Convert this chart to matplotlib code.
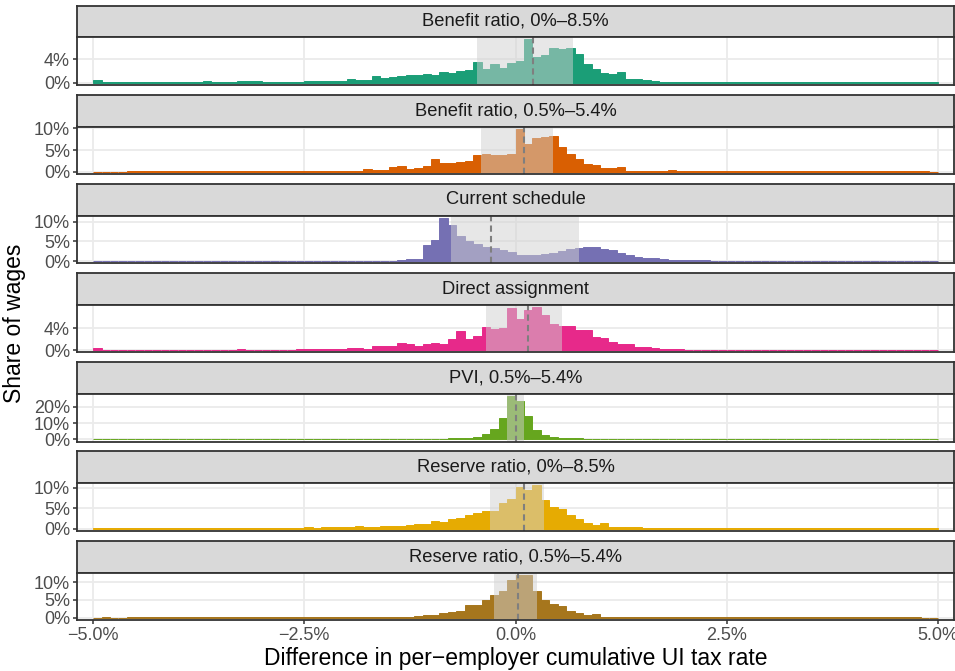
import matplotlib
matplotlib.use('Agg')
import numpy as np
import matplotlib.pyplot as plt

plt.rcParams['font.family'] = ['Liberation Sans', 'DejaVu Sans']

# ------------------------------------------------------------
# Dados (share of wages, %, bins de 0.1 p.p. de -5.0 a 5.0)
# ------------------------------------------------------------
BIN_WIDTH = 0.1
BIN_START = -5.0

panel_titles = [
    'Benefit ratio, 0%–8.5%',
    'Benefit ratio, 0.5%–5.4%',
    'Current schedule',
    'Direct assignment',
    'PVI, 0.5%–5.4%',
    'Reserve ratio, 0%–8.5%',
    'Reserve ratio, 0.5%–5.4%',
]

benefit_0_85 = [
    0.4, 0.08, 0.08, 0.08, 0.08, 0.08, 0.08, 0.08, 0.08, 0.08,
    0.08, 0.08, 0.08, 0.25, 0.1, 0.1, 0.1, 0.2, 0.2, 0.2,
    0.05, 0.17, 0.17, 0.05, 0.17, 0.25, 0.25, 0.34, 0.34, 0.34,
    0.6, 0.45, 0.45, 1.07, 0.85, 0.95, 1.07, 1.24, 1.35, 1.5,
    1.3, 1.8, 1.7, 2.0, 2.1, 3.5, 2.34, 3.14, 2.46, 3.43,
    3.7, 7.4, 4.4, 4.74, 5.9, 5.7, 6.0, 4.86, 3.26, 2.4,
    1.6, 1.43, 1.77, 0.69, 0.57, 0.4, 0.23, 0.17, 0.15, 0.15,
    0.1, 0.08, 0.08, 0.08, 0.08, 0.08, 0.08, 0.08, 0.08, 0.08,
    0.08, 0.08, 0.08, 0.08, 0.08, 0.08, 0.08, 0.08, 0.08, 0.08,
    0.08, 0.08, 0.08, 0.08, 0.08, 0.08, 0.08, 0.08, 0.08, 0.08,
]
benefit_05_54 = [
    0, 0, 0, 0, 0.08, 0.08, 0.08, 0.08, 0.08, 0.08,
    0.08, 0.08, 0.08, 0.08, 0.08, 0.08, 0.08, 0.08, 0.08, 0.08,
    0.08, 0.08, 0.08, 0.08, 0.08, 0.23, 0.23, 0.23, 0.1, 0.15,
    0.15, 0.15, 0.7, 0.46, 0.46, 1.0, 1.25, 0.7, 0.88, 1.44,
    2.85, 1.95, 2.1, 2.15, 2.4, 3.8, 4.0, 3.85, 3.85, 4.0,
    9.9, 6.3, 7.7, 8.1, 8.2, 5.7, 4.1, 3.0, 1.9, 1.54,
    0.92, 0.92, 1.08, 0.3, 0.3, 0.08, 0.08, 0.08, 0.4, 0.08,
    0.08, 0.08, 0.08, 0.08, 0.08, 0.08, 0.08, 0.08, 0.08, 0.08,
    0.08, 0.08, 0.08, 0.08, 0.08, 0.08, 0.08, 0.08, 0.08, 0.08,
    0.08, 0.08, 0.08, 0.08, 0.08, 0.08, 0.08, 0.08, 0.08, 0,
]
current_schedule = [
    0, 0, 0, 0, 0, 0, 0, 0, 0, 0,
    0, 0, 0, 0, 0, 0, 0, 0, 0, 0,
    0, 0, 0, 0, 0, 0, 0, 0, 0, 0,
    0, 0, 0, 0, 0, 0, 0.15, 0.6, 0.6, 4.15,
    5.4, 11.0, 9.2, 6.3, 5.0, 4.45, 3.7, 3.4, 2.9, 2.35,
    1.6, 1.6, 1.6, 1.8, 2.1, 2.6, 3.1, 3.4, 3.56, 3.7,
    3.1, 2.7, 2.0, 1.65, 1.1, 0.85, 0.65, 0.55, 0.38, 0.38,
    0.38, 0.38, 0.38, 0.12, 0.12, 0.12, 0.12, 0.12, 0.12, 0.12,
    0.12, 0.12, 0.12, 0.12, 0.12, 0.12, 0.12, 0.12, 0.12, 0.12,
    0.12, 0.12, 0.12, 0.12, 0.12, 0.12, 0.12, 0.12, 0.12, 0.12,
]
direct_assignment = [
    0.42, 0.06, 0.06, 0.06, 0.06, 0.06, 0.06, 0.06, 0.06, 0.06,
    0.06, 0.06, 0.06, 0.06, 0.06, 0.06, 0.06, 0.24, 0.06, 0.06,
    0.06, 0.06, 0.06, 0.06, 0.24, 0.24, 0.24, 0.24, 0.24, 0.24,
    0.45, 0.45, 0.27, 0.7, 0.7, 0.7, 1.35, 1.07, 0.84, 1.2,
    1.33, 1.2, 2.05, 3.5, 2.0, 2.55, 4.25, 3.9, 4.0, 7.65,
    5.75, 7.3, 7.85, 6.35, 4.8, 4.4, 4.4, 3.6, 3.7, 2.4,
    2.25, 1.5, 1.1, 1.1, 0.68, 0.68, 0.42, 0.3, 0.24, 0.24,
    0.1, 0.1, 0.1, 0.1, 0.1, 0.1, 0.1, 0.1, 0.1, 0.1,
    0.1, 0.1, 0.1, 0.1, 0.1, 0.1, 0.1, 0.1, 0.1, 0.1,
    0.1, 0.1, 0.1, 0.1, 0.1, 0.1, 0.1, 0.1, 0.1, 0.1,
]
pvi_05_54 = [
    0, 0, 0, 0, 0.2, 0.2, 0.2, 0.2, 0.2, 0.2,
    0.2, 0.2, 0.2, 0.2, 0.2, 0.2, 0.2, 0.2, 0.2, 0.2,
    0.2, 0.2, 0.2, 0.2, 0.2, 0.2, 0.2, 0.2, 0.2, 0.2,
    0.2, 0.2, 0.2, 0.2, 0.2, 0.2, 0.2, 0.2, 0.2, 0.2,
    0.2, 0.2, 0.6, 0.6, 0.8, 1.6, 3.3, 6.2, 13.2, 26.4,
    23.4, 14.2, 5.6, 2.9, 1.3, 0.6, 0.6, 0.6, 0.2, 0.2,
    0.2, 0.2, 0.2, 0.2, 0.2, 0.2, 0.2, 0.2, 0.2, 0.2,
    0.2, 0.2, 0.2, 0.2, 0.2, 0.2, 0.2, 0.2, 0.2, 0.2,
    0.2, 0.2, 0.2, 0.2, 0.2, 0.2, 0.2, 0.2, 0.2, 0.2,
    0.2, 0.2, 0.2, 0.2, 0.2, 0.2, 0.2, 0.2, 0, 0,
]
reserve_0_85 = [
    0.08, 0.08, 0.08, 0.08, 0.08, 0.08, 0.08, 0.08, 0.08, 0.08,
    0.08, 0.08, 0.08, 0.08, 0.08, 0.08, 0.08, 0.08, 0.08, 0.08,
    0.08, 0.08, 0.08, 0.08, 0.08, 0.3, 0.08, 0.3, 0.3, 0.3,
    0.3, 0.55, 0.35, 0.35, 0.55, 0.55, 0.55, 0.95, 1.05, 1.1,
    1.8, 1.55, 2.4, 2.6, 3.3, 3.9, 4.3, 4.3, 6.3, 7.2,
    10.1, 9.4, 10.6, 7.1, 5.2, 4.7, 3.4, 2.3, 1.3, 1.0,
    1.35, 0.5, 0.5, 0.3, 0.3, 0.08, 0.08, 0.08, 0.08, 0.08,
    0.08, 0.08, 0.08, 0.08, 0.08, 0.08, 0.08, 0.08, 0.08, 0.08,
    0.08, 0.08, 0.08, 0.08, 0.08, 0.08, 0.08, 0.08, 0.08, 0.08,
    0.08, 0.08, 0.08, 0.08, 0.08, 0.08, 0.08, 0.08, 0.08, 0.08,
]
reserve_05_54 = [
    0, 0.1, 0, 0, 0.1, 0.1, 0.1, 0.1, 0.1, 0.1,
    0.1, 0.1, 0.1, 0.1, 0.1, 0.1, 0.1, 0.1, 0.1, 0.1,
    0.1, 0.1, 0.1, 0.1, 0.1, 0.1, 0.1, 0.1, 0.1, 0.1,
    0.1, 0.1, 0.1, 0.1, 0.37, 0.37, 0.37, 0.37, 0.6, 0.9,
    0.9, 1.25, 1.55, 1.8, 3.5, 3.7, 4.9, 6.3, 7.45, 10.7,
    12.1, 12.1, 7.4, 5.1, 4.0, 3.2, 1.85, 1.25, 0.9, 1.2,
    0.37, 0.37, 0.37, 0.1, 0.37, 0.1, 0.1, 0.1, 0.1, 0.1,
    0.1, 0.1, 0.1, 0.1, 0.1, 0.1, 0.1, 0.1, 0.1, 0.1,
    0.1, 0.1, 0.1, 0.1, 0.1, 0.1, 0.1, 0.1, 0.1, 0.1,
    0.1, 0.1, 0.1, 0.1, 0.1, 0.1, 0.1, 0.1, 0, 0,
]

# intervalo sombreado (quartis) e mediana, em p.p.
iqr_low = [-0.455, -0.41, -0.767, -0.349, -0.1, -0.302, -0.255]
iqr_high = [0.677, 0.447, 0.747, 0.547, 0.1, 0.335, 0.25]
medians = [0.21, 0.1, -0.294, 0.144, 0.0, 0.1, 0.026]

y_ticks = [[0, 4], [0, 5, 10], [0, 5, 10], [0, 4], [0, 10, 20], [0, 5, 10], [0, 5, 10]]
x_ticks = [-5.0, -2.5, 0.0, 2.5, 5.0]
x_tick_labels = ['−5.0%', '−2.5%', '0.0%', '2.5%', '5.0%']

colors = ['#1B9E77', '#D95F02', '#7570B3', '#E7298A', '#66A61E', '#E6AB02', '#A6761D']

series = [benefit_0_85, benefit_05_54, current_schedule, direct_assignment,
          pvi_05_54, reserve_0_85, reserve_05_54]

# ------------------------------------------------------------
# Layout (px)
# ------------------------------------------------------------
W, H = 955, 671
LEFT, RIGHT = 77, 954
TOP0, STEP = 5.5, 89.2
STRIP_H, PANEL_H = 31.8, 47.5
BORDER = '#333333'

fig = plt.figure(figsize=(W / 100, H / 100), dpi=100)

for i, (vals, title) in enumerate(zip(series, panel_titles)):
    strip_top = TOP0 + i * STEP
    panel_top = strip_top + STRIP_H

    # faixa do título
    sax = fig.add_axes([LEFT / W, 1 - panel_top / H, (RIGHT - LEFT) / W, STRIP_H / H])
    sax.set_facecolor('#D9D9D9')
    sax.set_xticks([])
    sax.set_yticks([])
    for sp in sax.spines.values():
        sp.set_color(BORDER)
        sp.set_linewidth(1.3)
    sax.text(0.5, 0.5, title, transform=sax.transAxes, ha='center', va='center',
             fontsize=13.2, color='#1A1A1A')

    ax = fig.add_axes([LEFT / W, 1 - (panel_top + PANEL_H) / H, (RIGHT - LEFT) / W, PANEL_H / H])
    vals = np.array(vals)
    edges = BIN_START + BIN_WIDTH * np.arange(len(vals))
    ax.bar(edges, vals, width=BIN_WIDTH, align='edge', color=colors[i],
           edgecolor=colors[i], linewidth=0.7, zorder=2)
    ax.axvspan(iqr_low[i], iqr_high[i], color='#D1D1D1', alpha=0.5, lw=0, zorder=3)
    ax.axvline(medians[i], color='#7F7F7F', linestyle=(0, (3, 2)), linewidth=1.5, zorder=4)

    ymax = vals.max()
    ax.set_ylim(-0.05 * ymax, 1.05 * ymax)
    ax.set_xlim(-5.19, 5.19)
    ax.set_yticks(y_ticks[i])
    ax.set_yticklabels([f'{t}%' for t in y_ticks[i]])
    ax.set_xticks(x_ticks)
    ax.grid(True, color='#EBEBEB', linewidth=1.3, zorder=0)
    ax.set_axisbelow(True)
    for sp in ax.spines.values():
        sp.set_color(BORDER)
        sp.set_linewidth(1.3)
        sp.set_zorder(5)
    ax.tick_params(axis='y', length=3, width=1.1, color=BORDER, labelsize=13,
                   labelcolor='#4D4D4D', pad=2)
    if i == len(series) - 1:
        ax.set_xticklabels(x_tick_labels)
        ax.tick_params(axis='x', length=3, width=1.1, color=BORDER, labelsize=13,
                       labelcolor='#4D4D4D', pad=2)
    else:
        ax.tick_params(axis='x', length=0, labelbottom=False)

fig.text(0.5 * (LEFT + RIGHT) / W, 1 - 659 / H, 'Difference in per−employer cumulative UI tax rate',
         ha='center', va='center', fontsize=16.5)
fig.text(15 / W, 1 - 323 / H, 'Share of wages', ha='center', va='center',
         rotation=90, fontsize=16.5)

plt.savefig('out.png', dpi=100)
plt.close()
